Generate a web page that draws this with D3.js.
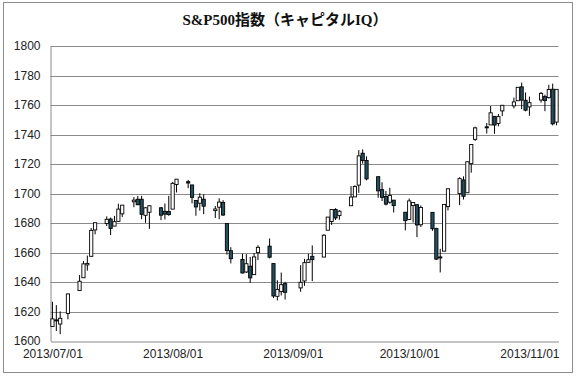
<!DOCTYPE html>
<html>
<head>
<meta charset="utf-8">
<script src="https://cdn.jsdelivr.net/npm/d3@7/dist/d3.min.js"></script>
<style>
  html, body { margin: 0; padding: 0; background: #fff; }
  svg { display: block; }
</style>
</head>
<body>
<script>
const title = "S&P500指数（キャピタルIQ）";

const dates = [
  "2013-07-01","2013-07-02","2013-07-03","2013-07-05","2013-07-08","2013-07-09","2013-07-10","2013-07-11","2013-07-12",
  "2013-07-15","2013-07-16","2013-07-17","2013-07-18","2013-07-19","2013-07-22","2013-07-23","2013-07-24","2013-07-25",
  "2013-07-26","2013-07-29","2013-07-30","2013-07-31","2013-08-01","2013-08-02","2013-08-05","2013-08-06","2013-08-07",
  "2013-08-08","2013-08-09","2013-08-12","2013-08-13","2013-08-14","2013-08-15","2013-08-16","2013-08-19","2013-08-20",
  "2013-08-21","2013-08-22","2013-08-23","2013-08-26","2013-08-27","2013-08-28","2013-08-29","2013-08-30","2013-09-03",
  "2013-09-04","2013-09-05","2013-09-06","2013-09-09","2013-09-10","2013-09-11","2013-09-12","2013-09-13","2013-09-16",
  "2013-09-17","2013-09-18","2013-09-19","2013-09-20","2013-09-23","2013-09-24","2013-09-25","2013-09-26","2013-09-27",
  "2013-09-30","2013-10-01","2013-10-02","2013-10-03","2013-10-04","2013-10-07","2013-10-08","2013-10-09","2013-10-10",
  "2013-10-11","2013-10-14","2013-10-15","2013-10-16","2013-10-17","2013-10-18","2013-10-21","2013-10-22","2013-10-23",
  "2013-10-24","2013-10-25","2013-10-28","2013-10-29","2013-10-30","2013-10-31","2013-11-01","2013-11-04","2013-11-05",
  "2013-11-06","2013-11-07","2013-11-08"
];

const openV = [
  1609.8,1614.3,1611.5,1618.7,1634.2,1642.9,1651.6,1657.4,1675.3,
  1679.6,1682.7,1677.9,1681.1,1686.2,1694.4,1696.1,1696.1,1685.2,
  1687.3,1690.3,1687.9,1687.8,1689.4,1706.1,1708.0,1705.8,1695.3,
  1693.4,1696.1,1688.4,1690.7,1693.9,1679.6,1661.2,1655.3,1646.8,
  1650.7,1645.0,1659.9,1664.3,1652.5,1630.3,1633.5,1638.9,1636.0,
  1640.7,1653.3,1657.4,1656.9,1675.1,1681.0,1689.2,1685.0,1691.7,
  1697.7,1705.7,1727.3,1722.4,1711.4,1702.6,1698.0,1694.1,1695.5,
  1687.3,1682.4,1691.9,1692.4,1678.8,1687.2,1676.2,1657.0,1660.9,
  1691.1,1699.9,1709.2,1700.5,1720.2,1736.7,1745.2,1746.5,1752.3,
  1747.5,1756.0,1759.4,1762.9,1772.3,1763.2,1758.7,1763.4,1765.7,
  1765.0,1770.7,1748.4
];
const highV = [
  1626.6,1624.3,1620.1,1632.1,1644.7,1654.2,1657.9,1676.6,1680.2,
  1684.5,1683.7,1684.8,1693.1,1692.1,1697.6,1698.4,1698.4,1690.9,
  1691.9,1690.9,1693.2,1698.4,1707.9,1709.7,1709.2,1705.8,1695.3,
  1700.2,1699.4,1691.5,1696.8,1695.5,1679.6,1663.6,1659.2,1658.9,
  1657.0,1659.6,1664.9,1669.5,1652.5,1641.2,1646.4,1640.1,1651.4,
  1655.7,1659.2,1664.8,1672.4,1684.1,1689.1,1690.0,1688.7,1705.0,
  1705.5,1729.4,1729.9,1725.2,1711.4,1707.6,1701.7,1703.9,1695.5,
  1687.3,1696.6,1693.9,1692.4,1691.9,1687.2,1676.8,1662.5,1692.6,
  1703.4,1711.0,1711.6,1721.8,1733.5,1745.3,1747.8,1759.3,1752.3,
  1753.9,1759.8,1765.0,1772.1,1775.2,1768.5,1765.7,1768.8,1767.0,
  1773.7,1774.5,1770.8
];
const lowV = [
  1609.8,1606.8,1604.6,1614.7,1634.2,1642.9,1647.7,1657.4,1672.3,
  1677.9,1671.8,1677.9,1681.1,1684.1,1690.7,1692.1,1682.6,1680.1,
  1676.0,1681.9,1682.4,1684.9,1689.4,1700.7,1703.6,1693.3,1684.9,
  1688.4,1686.0,1683.4,1682.6,1684.8,1658.6,1652.6,1645.8,1646.1,
  1639.4,1645.0,1654.8,1656.0,1629.1,1627.5,1630.9,1628.1,1633.4,
  1637.4,1653.1,1640.6,1656.9,1675.1,1678.7,1682.0,1682.2,1691.7,
  1697.7,1700.4,1720.2,1708.9,1697.1,1694.9,1691.9,1693.1,1687.1,
  1675.0,1682.1,1680.3,1670.4,1677.3,1674.7,1655.0,1646.5,1660.9,
  1688.5,1692.1,1695.9,1700.5,1714.1,1735.7,1740.7,1746.5,1740.5,
  1745.5,1752.5,1757.7,1762.9,1757.2,1755.7,1752.7,1761.6,1755.8,
  1764.4,1746.2,1746.2
];
const closeV = [
  1615.0,1614.1,1615.4,1631.9,1640.5,1652.3,1652.6,1675.0,1680.2,
  1682.5,1676.3,1680.9,1689.4,1692.1,1695.5,1692.4,1685.9,1690.3,
  1691.7,1685.3,1686.0,1685.7,1706.9,1709.7,1707.1,1697.4,1690.9,
  1697.5,1691.4,1689.5,1694.2,1685.4,1661.3,1655.8,1646.1,1652.4,
  1642.8,1657.0,1663.5,1656.8,1630.5,1635.0,1638.2,1633.0,1639.8,
  1653.1,1655.1,1655.2,1671.7,1684.0,1689.1,1683.4,1688.0,1697.6,
  1704.8,1725.5,1722.3,1709.9,1701.8,1697.4,1692.8,1698.7,1691.8,
  1681.6,1695.0,1693.9,1678.7,1690.5,1676.1,1655.5,1656.4,1692.6,
  1703.2,1710.1,1698.1,1721.5,1733.2,1744.5,1744.7,1754.7,1746.4,
  1752.1,1759.8,1762.1,1772.0,1763.3,1756.5,1761.6,1767.9,1763.0,
  1770.5,1747.2,1770.6
];

const yTicks = [1600,1620,1640,1660,1680,1700,1720,1740,1760,1780,1800];
const xTickLabels = ["2013/07/01","2013/08/01","2013/09/01","2013/10/01","2013/11/01"];

const W = 576, H = 378;
const parse = d3.timeParse("%Y-%m-%d");
const parseTick = d3.timeParse("%Y/%m/%d");
const DAY = 86400000;

const data = dates.map((d, i) => ({
  date: parse(d), o: openV[i], h: highV[i], l: lowV[i], c: closeV[i]
}));

const firstDate = data[0].date, lastDate = data[data.length - 1].date;

const svg = d3.select("body").append("svg")
  .attr("width", W).attr("height", H);

svg.append("rect").attr("x", 0).attr("y", 0).attr("width", W).attr("height", H).attr("fill", "#fff");
svg.append("rect")
  .attr("x", 3.5).attr("y", 2.5).attr("width", 569).attr("height", 370)
  .attr("fill", "none").attr("stroke", "#8c8c8c").attr("stroke-width", 1);

const plotL = 50.5, plotR = 558.5, plotT = 46, plotB = 341;

const x = d3.scaleTime()
  .domain([new Date(+firstDate - DAY / 2), new Date(+lastDate + DAY / 2)])
  .range([plotL, plotR]);
const y = d3.scaleLinear().domain([1600, 1800]).range([plotB, plotT]);

// gridlines
svg.append("g").selectAll("line").data(yTicks.slice(1)).join("line")
  .attr("x1", plotL).attr("x2", plotR)
  .attr("y1", d => Math.round(y(d)) + 0.5).attr("y2", d => Math.round(y(d)) + 0.5)
  .attr("stroke", "#8a8a8a").attr("stroke-width", 1);

const labelFont = "'Liberation Sans', Arial, sans-serif";

// axes
const yAxis = d3.axisLeft(y).tickValues(yTicks).tickSize(0).tickPadding(10).tickFormat(d3.format("d"));
const gy = svg.append("g").attr("transform", `translate(${plotL},0)`).call(yAxis);
gy.select(".domain").attr("stroke", "#8a8a8a");
gy.selectAll("text").attr("font-family", labelFont)
  .attr("font-size", 12).attr("fill", "#222");

const xAxis = d3.axisBottom(x).tickValues(xTickLabels.map(parseTick))
  .tickSize(0).tickPadding(8).tickFormat(d3.timeFormat("%Y/%m/%d"));
const gx = svg.append("g").attr("transform", `translate(0,${Math.round(plotB) + 0.5})`).call(xAxis);
gx.select(".domain").attr("stroke", "#8a8a8a");
gx.selectAll("text").attr("font-family", labelFont)
  .attr("font-size", 12).attr("fill", "#222");

// candles
const bodyW = 3.2;
const candles = svg.append("g").selectAll("g").data(data).join("g");
candles.append("line")
  .attr("x1", d => x(d.date)).attr("x2", d => x(d.date))
  .attr("y1", d => y(d.h)).attr("y2", d => y(d.l))
  .attr("stroke", "#000").attr("stroke-width", 1);
candles.append("rect")
  .attr("x", d => x(d.date) - bodyW / 2)
  .attr("width", bodyW)
  .attr("y", d => y(Math.max(d.o, d.c)))
  .attr("height", d => Math.max(1, Math.abs(y(d.o) - y(d.c))))
  .attr("fill", d => d.c >= d.o ? "#fff" : "#24505f")
  .attr("stroke", "#000").attr("stroke-width", 0.9);

// title
svg.append("text")
  .attr("x", 285).attr("y", 25)
  .attr("text-anchor", "middle")
  .attr("font-family", "'Liberation Serif', 'Noto Sans CJK JP', serif")
  .attr("font-weight", "bold").attr("font-size", 15).attr("fill", "#111")
  .text(title);
</script>
</body>
</html>
